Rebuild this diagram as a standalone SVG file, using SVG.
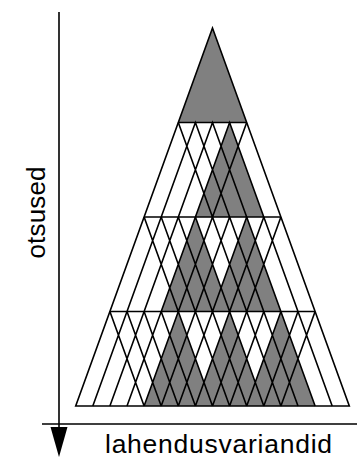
<svg xmlns="http://www.w3.org/2000/svg" width="358" height="462" viewBox="0 0 358 462">
<style>
.ln{fill:none;stroke:#000;stroke-width:1.6;stroke-linejoin:miter;stroke-linecap:butt}
.g{fill:#808080;stroke:none}
.t{font-family:"Liberation Sans",Arial,sans-serif;fill:#000}
</style>
<rect width="358" height="462" fill="#fff"/>
<g id="fill">
<polygon class="g" points="212.5,28 178.3,122.5 246.7,122.5"/>
<polygon class="g" points="229.6,122.5 195.4,217 263.8,217"/>
<polygon class="g" points="195.4,217 161.2,311.5 229.6,311.5"/>
<polygon class="g" points="246.7,217 212.5,311.5 280.9,311.5"/>
<polygon class="g" points="178.3,311.5 144.1,406 212.5,406"/>
<polygon class="g" points="229.6,311.5 195.4,406 263.8,406"/>
<polygon class="g" points="280.9,311.5 246.7,406 315.1,406"/>
</g>
<g id="lattice">
<path class="ln" d="M178.3 122.5 L212.5 217 M161.2 217 L195.4 122.5 L229.6 217 M178.3 217 L212.5 122.5 L246.7 217 M195.4 217 L229.6 122.5 L263.8 217 M212.5 217 L246.7 122.5
M144.1 217 L178.3 311.5 M127 311.5 L161.2 217 L195.4 311.5 M144.1 311.5 L178.3 217 L212.5 311.5 M161.2 311.5 L195.4 217 L229.6 311.5 M178.3 311.5 L212.5 217 L246.7 311.5 M195.4 311.5 L229.6 217 L263.8 311.5 M212.5 311.5 L246.7 217 L280.9 311.5 M229.6 311.5 L263.8 217 L298 311.5 M246.7 311.5 L280.9 217
M109.9 311.5 L144.1 406 M92.8 406 L127 311.5 L161.2 406 M109.9 406 L144.1 311.5 L178.3 406 M127 406 L161.2 311.5 L195.4 406 M144.1 406 L178.3 311.5 L212.5 406 M161.2 406 L195.4 311.5 L229.6 406 M178.3 406 L212.5 311.5 L246.7 406 M195.4 406 L229.6 311.5 L263.8 406 M212.5 406 L246.7 311.5 L280.9 406 M229.6 406 L263.8 311.5 L298 406 M246.7 406 L280.9 311.5 L315.1 406 M263.8 406 L298 311.5 L332.2 406 M280.9 406 L315.1 311.5
M178.3 122.5 H246.7 M144.1 217 H280.9 M109.9 311.5 H315.1"/>
<polygon class="ln" points="212.5,28 75.7,406 349.3,406"/>
</g>
<g id="axes">
<path class="ln" d="M59 12 V428 M42 424 H357"/>
<polygon points="50.5,427 67.5,427 59,457" fill="#000"/>
</g>
<g id="labels">
<text class="t" x="218.5" y="453" font-size="26.5" text-anchor="middle" textLength="227" lengthAdjust="spacing">lahendusvariandid</text>
<text class="t" transform="translate(45,212.5) rotate(-90)" x="0" y="0" font-size="26" text-anchor="middle" textLength="92" lengthAdjust="spacing">otsused</text>
</g>
</svg>
